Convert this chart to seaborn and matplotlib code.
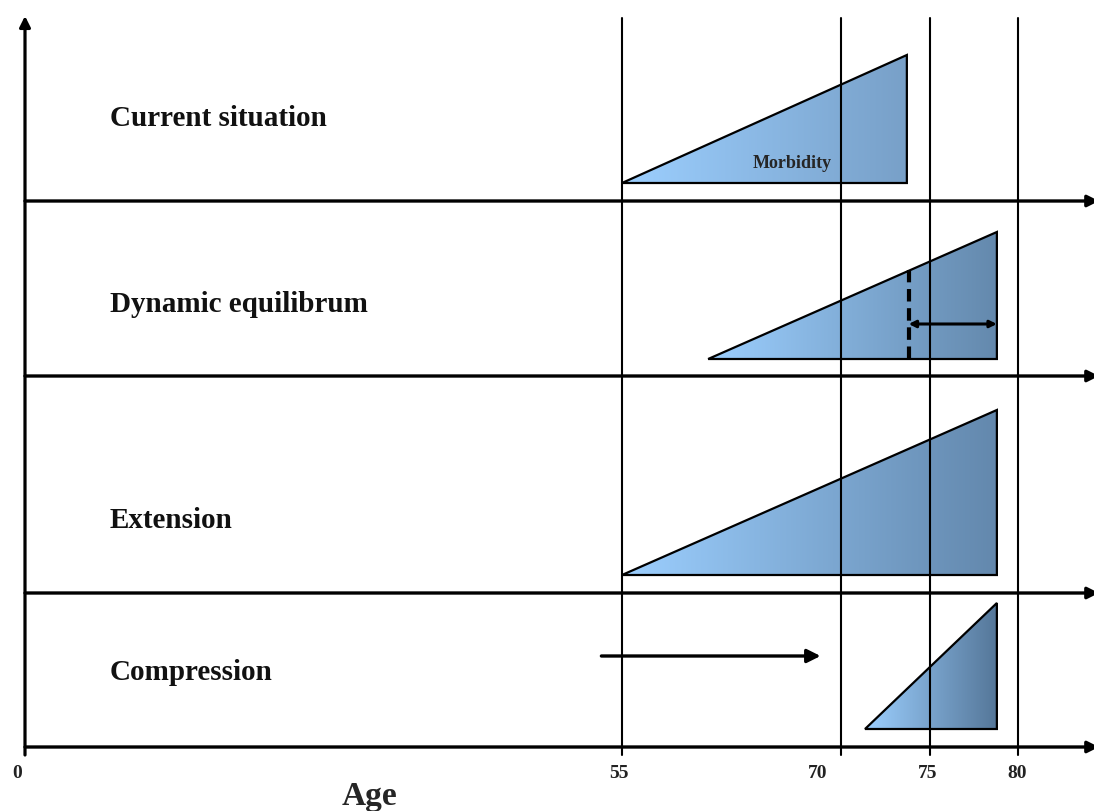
import numpy as np
import seaborn as sns
import matplotlib
matplotlib.use("Agg")
import matplotlib.pyplot as plt
from matplotlib.patches import Polygon

# age axis: tick ages and where they sit along the drawing
AGE_TICKS = [0, 55, 70, 75, 80]
TICK_POS = [25, 622, 841, 930, 1018]
TICK_LABEL_SHIFT = [-8, -3, -23, -2, -1]

# one row per scenario (bottom of each row, height units)
ROW_LABELS = ["Current situation", "Dynamic equilibrum", "Extension", "Compression"]
ROW_BASE = [610, 435, 218, 64]
ROW_LABEL_Y = [83, 72, 73, 75]

# morbidity triangles: start age, end age, bottom and top heights in row
TRI_START = [55, 60.9, 55, 71.35]
TRI_END = [73.7, 78.8, 78.8, 78.8]
TRI_LOW = [18, 17, 18, 18]
TRI_HIGH = [146, 144, 183, 144]
TRI_DARK = ["#78a0c8", "#6489ad", "#6388ad", "#557799"]
LIGHT = "#9ccfff"

AXIS_TOP = 793


def pos(age):
    return np.interp(age, AGE_TICKS, TICK_POS)


sns.set_theme(style="white")
plt.rcParams["font.family"] = ["Liberation Serif", "DejaVu Serif"]

fig = plt.figure(figsize=(10.94, 8.11), dpi=100)
ax = fig.add_axes([0, 0, 1, 1])
ax.set_xlim(0, 1094)
ax.set_ylim(0, 811)
ax.axis("off")

# triangles with left-to-right gradient
for i in range(len(ROW_LABELS)):
    x0, x1 = pos(TRI_START[i]), pos(TRI_END[i])
    b = ROW_BASE[i]
    y0, y1 = b + TRI_LOW[i], b + TRI_HIGH[i]
    cmap = sns.blend_palette([LIGHT, TRI_DARK[i]], as_cmap=True)
    grad = np.linspace(0, 1, 256).reshape(1, -1)
    img = ax.imshow(grad, cmap=cmap, extent=[x0, x1, y0, y1], aspect="auto",
                    origin="lower", zorder=1)
    tri = Polygon([[x0, y0], [x1, y1], [x1, y0]], closed=True, fill=False,
                  edgecolor="black", lw=1.6, zorder=2)
    ax.add_patch(tri)
    img.set_clip_path(tri)
    ax.text(110, b + ROW_LABEL_Y[i], ROW_LABELS[i], fontsize=21,
            fontweight="bold", va="center", ha="left", color="#111111")

ax.text(792, ROW_BASE[0] + 37, "Morbidity", fontsize=13, fontweight="bold",
        ha="center", va="center", zorder=3)

# vertical age lines (skip age 0: that is the y axis)
for a in AGE_TICKS[1:]:
    ax.plot([pos(a), pos(a)], [56, AXIS_TOP], color="black", lw=1.5, zorder=4)

# horizontal separators with arrows
for b in ROW_BASE:
    ax.annotate("", xy=(1099, b), xytext=(pos(0), b), annotation_clip=False,
                arrowprops=dict(arrowstyle="-|>", color="black", lw=2.4,
                                mutation_scale=17, shrinkA=0, shrinkB=0),
                zorder=5)

# vertical axis
ax.annotate("", xy=(pos(0), AXIS_TOP + 2), xytext=(pos(0), 56),
            annotation_clip=False,
            arrowprops=dict(arrowstyle="-|>", color="black", lw=2.3,
                            mutation_scale=16, shrinkA=0, shrinkB=0), zorder=5)

# tick labels
for a, shift in zip(AGE_TICKS, TICK_LABEL_SHIFT):
    ax.text(pos(a) + shift, 38, str(a), fontsize=14, fontweight="bold",
            ha="center", va="center", color="#222222")
ax.text(370, 15, "Age", fontsize=24, fontweight="bold", ha="center",
        va="center")

# dynamic equilibrium: dashed shift line and double arrow
b = ROW_BASE[1]
ax.plot([pos(73.8), pos(73.8)], [b + 17, b + 106], color="black", lw=3,
        ls=(0, (3, 1.6)), zorder=3)
ax.annotate("", xy=(pos(78.8), b + 52), xytext=(pos(73.8), b + 52),
            arrowprops=dict(arrowstyle="<|-|>", color="black", lw=2.2,
                            mutation_scale=10, shrinkA=0, shrinkB=0), zorder=3)

# compression: arrow pointing right
b = ROW_BASE[3]
ax.annotate("", xy=(pos(68.6), b + 91), xytext=(pos(53.1), b + 91),
            arrowprops=dict(arrowstyle="-|>", color="black", lw=2.4,
                            mutation_scale=20, shrinkA=0, shrinkB=0), zorder=3)

fig.savefig("out.png", dpi=100)
